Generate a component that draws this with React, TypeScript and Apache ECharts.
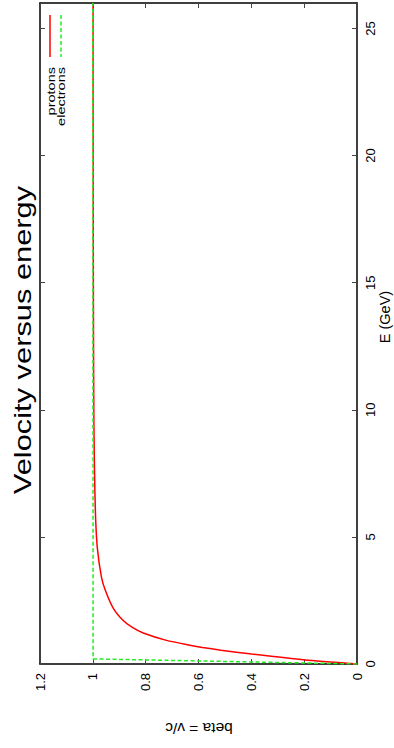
import React, { useEffect, useRef } from "react";
import * as echarts from "echarts";

// ---- data ----
const protonEnergy = [0, 0.156, 0.39, 0.545, 0.65, 0.74, 0.93, 1.22, 1.45, 1.71, 2.2, 2.88, 3.4, 4.57, 5.87, 7.55, 9.5, 13, 18, 26];
const protonBeta = [0, 0.197, 0.399, 0.515, 0.585, 0.633, 0.721, 0.809, 0.852, 0.885, 0.923, 0.952, 0.967, 0.983, 0.99, 0.9936, 0.996, 0.9975, 0.9986, 0.9993];
const electronEnergy = [0, 0.2, 26];
const electronBeta = [0, 0.999, 1];

const betaTickLabels = ["0", "0.2", "0.4", "0.6", "0.8", "1", "1.2"];
const energyTickLabels = ["0", "5", "10", "15", "20", "25"];
const seriesNames = ["protons", "electrons"];
const seriesColors = ["#ff0000", "#22ee22"];
const titleText = "Velocity versus energy";
const energyName = "E (GeV)";
const betaName = "beta = v/c";

const FONT = "'Liberation Sans', Arial, Helvetica, sans-serif";

export default function App() {
  const ref = useRef<HTMLDivElement>(null);

  useEffect(() => {
    if (!ref.current) return;
    const chart = echarts.init(ref.current, undefined, { renderer: "svg" });

    const protonData = protonEnergy.map((e, i) => [protonBeta[i], e]);
    const electronData = electronEnergy.map((e, i) => [electronBeta[i], e]);

    const betaFmt = (v: number) => {
      const s = String(Math.round(v * 10) / 10);
      return betaTickLabels.includes(s) ? s : "";
    };
    const eFmt = (v: number) => {
      const s = String(Math.round(v * 100) / 100);
      return energyTickLabels.includes(s) ? s : "";
    };

    const tickStyle = { show: true, inside: true, length: 5, lineStyle: { color: "#444", width: 1 } };
    const lineStyle = { color: "#000", width: 1.5 };

    chart.setOption({
      animation: false,
      backgroundColor: "#fff",
      grid: { left: 40, right: 37, top: -3, bottom: 84, containLabel: false },
      xAxis: [
        {
          type: "value",
          position: "bottom",
          min: 0,
          max: 1.2,
          interval: 0.2,
          inverse: true,
          splitLine: { show: false },
          axisLine: { show: true, onZero: false, lineStyle },
          axisTick: tickStyle,
          axisLabel: {
            rotate: 90,
            margin: 9,
            fontSize: 13,
            fontFamily: FONT,
            color: "#000",
            formatter: betaFmt,
          },
        },
        {
          type: "value",
          position: "top",
          min: 0,
          max: 1.2,
          interval: 0.2,
          inverse: true,
          splitLine: { show: false },
          axisLine: { show: true, onZero: false, lineStyle },
          axisTick: tickStyle,
          axisLabel: { show: false },
        },
      ],
      yAxis: [
        {
          type: "value",
          position: "right",
          min: 0,
          max: 26,
          interval: 5,
          splitLine: { show: false },
          axisLine: { show: true, onZero: false, lineStyle },
          axisTick: tickStyle,
          axisLabel: {
            rotate: 90,
            margin: 7,
            fontSize: 13,
            fontFamily: FONT,
            color: "#000",
            formatter: eFmt,
          },
        },
        {
          type: "value",
          position: "left",
          min: 0,
          max: 26,
          interval: 5,
          splitLine: { show: false },
          axisLine: { show: true, onZero: false, lineStyle },
          axisTick: tickStyle,
          axisLabel: { show: false },
        },
      ],
      series: [
        {
          name: seriesNames[0],
          type: "line",
          xAxisIndex: 0,
          yAxisIndex: 0,
          data: protonData,
          symbol: "none",
          smooth: 0.2,
          lineStyle: { color: seriesColors[0], width: 1.5 },
          z: 3,
        },
        {
          name: seriesNames[1],
          type: "line",
          xAxisIndex: 0,
          yAxisIndex: 0,
          data: electronData,
          symbol: "none",
          lineStyle: { color: seriesColors[1], width: 1.5, type: [4, 2.5] },
          z: 4,
        },
      ],
      graphic: [
        {
          type: "text",
          x: 23,
          y: 340,
          rotation: Math.PI / 2,
          scaleX: 1.34,
          style: { text: titleText, fontSize: 23, fontFamily: FONT, fill: "#000", align: "center", verticalAlign: "middle" },
        },
        {
          type: "text",
          x: 385,
          y: 317,
          rotation: Math.PI / 2,
          style: { text: energyName, fontSize: 14.5, fontFamily: FONT, fill: "#000", align: "center", verticalAlign: "middle" },
        },
        {
          type: "text",
          x: 199,
          y: 728,
          rotation: Math.PI,
          style: { text: betaName, fontSize: 15.5, fontFamily: FONT, fill: "#000", align: "center", verticalAlign: "middle" },
        },
        {
          type: "line",
          shape: { x1: 50, y1: 15, x2: 50, y2: 57 },
          style: { stroke: seriesColors[0], lineWidth: 1.5 },
        },
        {
          type: "line",
          shape: { x1: 61, y1: 15, x2: 61, y2: 57 },
          style: { stroke: seriesColors[1], lineWidth: 1.5, lineDash: [4, 2.5] },
        },
        {
          type: "text",
          x: 51,
          y: 67,
          rotation: Math.PI / 2,
          scaleX: 1.32,
          style: { text: seriesNames[0], fontSize: 11, fontFamily: FONT, fill: "#000", align: "right", verticalAlign: "middle" },
        },
        {
          type: "text",
          x: 61.5,
          y: 67,
          rotation: Math.PI / 2,
          scaleX: 1.32,
          style: { text: seriesNames[1], fontSize: 11, fontFamily: FONT, fill: "#000", align: "right", verticalAlign: "middle" },
        },
      ],
    });

    return () => chart.dispose();
  }, []);

  return (
    <div
      ref={ref}
      style={{ position: "fixed", left: 0, top: 0, width: 394, height: 748, background: "#fff" }}
    />
  );
}
